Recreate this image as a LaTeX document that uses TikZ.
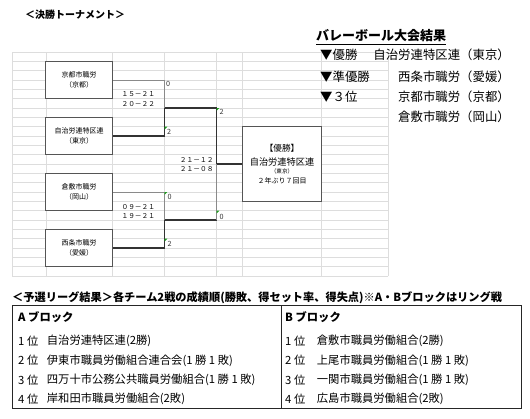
\documentclass[tikz,border=0pt]{standalone}
\usepackage{fontspec}
\setmainfont{Noto Sans CJK JP}
\definecolor{gridc}{HTML}{DDDDDD}
\definecolor{boxc}{HTML}{555555}
\definecolor{winc}{HTML}{333333}
\definecolor{losec}{HTML}{8A8A8A}
\definecolor{markc}{HTML}{1E9E1E}
\newcommand{\fs}[1]{\fontsize{#1}{#1}\selectfont}
\begin{document}
\begin{tikzpicture}[x=1pt,y=-1pt,
  gridline/.style={draw=gridc,line width=0.6pt},
  team/.style={draw=boxc,fill=white,line width=0.8pt,minimum width=67pt,minimum height=37.3pt,inner sep=0pt,align=center,font=\fontsize{7}{9.7}\selectfont},
  champbox/.style={draw=boxc,fill=white,line width=0.8pt,minimum width=79.4pt,minimum height=74.6pt,inner sep=0pt},
  txt/.style={inner sep=0pt,text=black},
  score/.style={txt,font=\fs{6.7}},
  pt/.style={txt,font=\fs{7.2},text=black!80},
  win/.style={draw=winc,line width=1.3pt},
  lose/.style={draw=losec,line width=0.9pt},
  cmark/.style={fill=markc,draw=none},
  rtxt/.style={txt,font=\fs{12.4}},
  tb/.style={txt,font=\fs{11.3},anchor=west}]
\useasboundingbox (0,0) rectangle (530,418);
\fill[white] (0,0) rectangle (530,418);
% title
\node[txt,anchor=west,font=\fs{10}\bfseries] (t1) at (25,15) {＜決勝トーナメント＞};
% grid
\foreach \k in {0,...,24} \draw[gridline] (12,{52+\k*9.3333}) -- (388,{52+\k*9.3333});
\foreach \x in {12,46,112.7,164.7,216.7,242.3,321.7,388} \draw[gridline] (\x,52) -- (\x,276);
% team boxes
\node[team] (kyoto) at (79.2,80) {京都市職労\\（京都）};
\node[team] (jichi) at (79.2,136) {自治労連特区連\\（東京）};
\node[team] (kura) at (79.2,192) {倉敷市職労\\（岡山）};
\node[team] (saijo) at (79.2,248) {西条市職労\\（愛媛）};
\node[champbox] (champ) at (282,164) {};
\node[txt,font=\fs{8.6}] (c1) at (282,148.3) {【優勝】};
\node[txt,font=\fs{9.2}] (c2) at (282,161.7) {自治労連特区連};
\node[txt,font=\fs{5.6}] (c3) at (282,170.9) {（東京）};
\node[txt,font=\fs{7}] (c4) at (282,181) {２年ぶり７回目};
% bracket
\coordinate (q1) at (164.7,108);
\coordinate (q2) at (164.7,220);
\coordinate (f) at (216.7,164);
\draw[lose] (kyoto.east) -| (q1);
\draw[win] (jichi.east) -| (q1);
\draw[win] (q1) -| (f);
\draw[lose] (kura.east) -| (q2);
\draw[win] (saijo.east) -| (q2);
\draw[win] (q2) -- (q2 -| f);
\draw[lose] (q2 -| f) -- (f);
\draw[win] (f) -- (champ.west);
% comment marks
\foreach \mx/\my in {164.7/126.7,216.7/108,164.7/192,164.7/238.7,216.7/210.7}
  \fill[cmark] (\mx,\my) -- ++(2.6,0) -- ++(-2.6,2.6) -- cycle;
% set scores
\node[score] (s1) at (138.3,94.3) {１５－２１};
\node[score] (s2) at (138.3,103.7) {２０－２２};
\node[score] (s3) at (138.3,206.7) {０９－２１};
\node[score] (s4) at (138.3,216) {１９－２１};
\node[score] (s5) at (196.7,160) {２１－１２};
\node[score] (s6) at (196.7,169.3) {２１－０８};
% match points
\node[pt] (p1) at (168,84.3) {0};
\node[pt] (p2) at (169,132.3) {2};
\node[pt] (p3) at (221.5,111.7) {2};
\node[pt] (p4) at (169.5,197.3) {0};
\node[pt] (p5) at (169.5,244) {2};
\node[pt] (p6) at (221.5,216.7) {0};
% results at right
\node[txt,anchor=west,font=\fs{13}\bfseries] (rt) at (316,35.5) {バレーボール大会結果};
\draw[black,line width=0.9pt] ([yshift=-2.2pt]rt.south west) -- ([yshift=-2.2pt]rt.south east);
\node[rtxt,anchor=west] (r1) at (320,55) {▼優勝};
\node[rtxt,anchor=east] (r1b) at (510,55) {自治労連特区連（東京）};
\node[rtxt,anchor=west] (r2) at (320,76.7) {▼準優勝};
\node[rtxt,anchor=east] (r2b) at (510,76.7) {西条市職労（愛媛）};
\node[rtxt,anchor=west] (r3) at (320,96.7) {▼３位};
\node[rtxt,anchor=east] (r3b) at (510,96.7) {京都市職労（京都）};
\node[rtxt,anchor=east] (r4b) at (510,116.3) {倉敷市職労（岡山）};
% preliminary league
\node[txt,anchor=west,font=\fs{11.2}\bfseries] (lt) at (12,298) {＜予選リーグ結果＞各チーム2戦の成績順(勝敗、得セット率、得失点)※A・Bブロックはリング戦};
\node[draw=black!85,line width=0.8pt,minimum width=509pt,minimum height=103.3pt,inner sep=0pt,anchor=north west] (tbl) at (11.7,305) {};
\coordinate (dv) at (281.5,305);
\draw[draw=black!85,line width=0.8pt] (dv) -- (dv |- tbl.south);
\node[tb,font=\fs{11.3}\bfseries] (ah) at (18,317) {A ブロック};
\node[tb] (a1) at (18,341) {1 位};
\node[tb] (a1n) at (46.7,341) {自治労連特区連(2勝)};
\node[tb] (a2) at (18,360.5) {2 位};
\node[tb] (a2n) at (46.7,360.5) {伊東市職員労働組合連合会(1 勝 1 敗)};
\node[tb] (a3) at (18,380) {3 位};
\node[tb] (a3n) at (46.7,380) {四万十市公務公共職員労働組合(1 勝 1 敗)};
\node[tb] (a4) at (18,399) {4 位};
\node[tb] (a4n) at (46.7,399) {岸和田市職員労働組合(2敗)};
\node[tb,font=\fs{11.3}\bfseries] (bh) at (285,317) {B ブロック};
\node[tb] (b1) at (285,341) {1 位};
\node[tb] (b1n) at (316.7,341) {倉敷市職員労働組合(2勝)};
\node[tb] (b2) at (285,360.5) {2 位};
\node[tb] (b2n) at (316.7,360.5) {上尾市職員労働組合(1 勝 1 敗)};
\node[tb] (b3) at (285,380) {3 位};
\node[tb] (b3n) at (316.7,380) {一関市職員労働組合(1 勝 1 敗)};
\node[tb] (b4) at (285,399) {4 位};
\node[tb] (b4n) at (316.7,399) {広島市職員労働組合(2敗)};
\end{tikzpicture}
\end{document}
